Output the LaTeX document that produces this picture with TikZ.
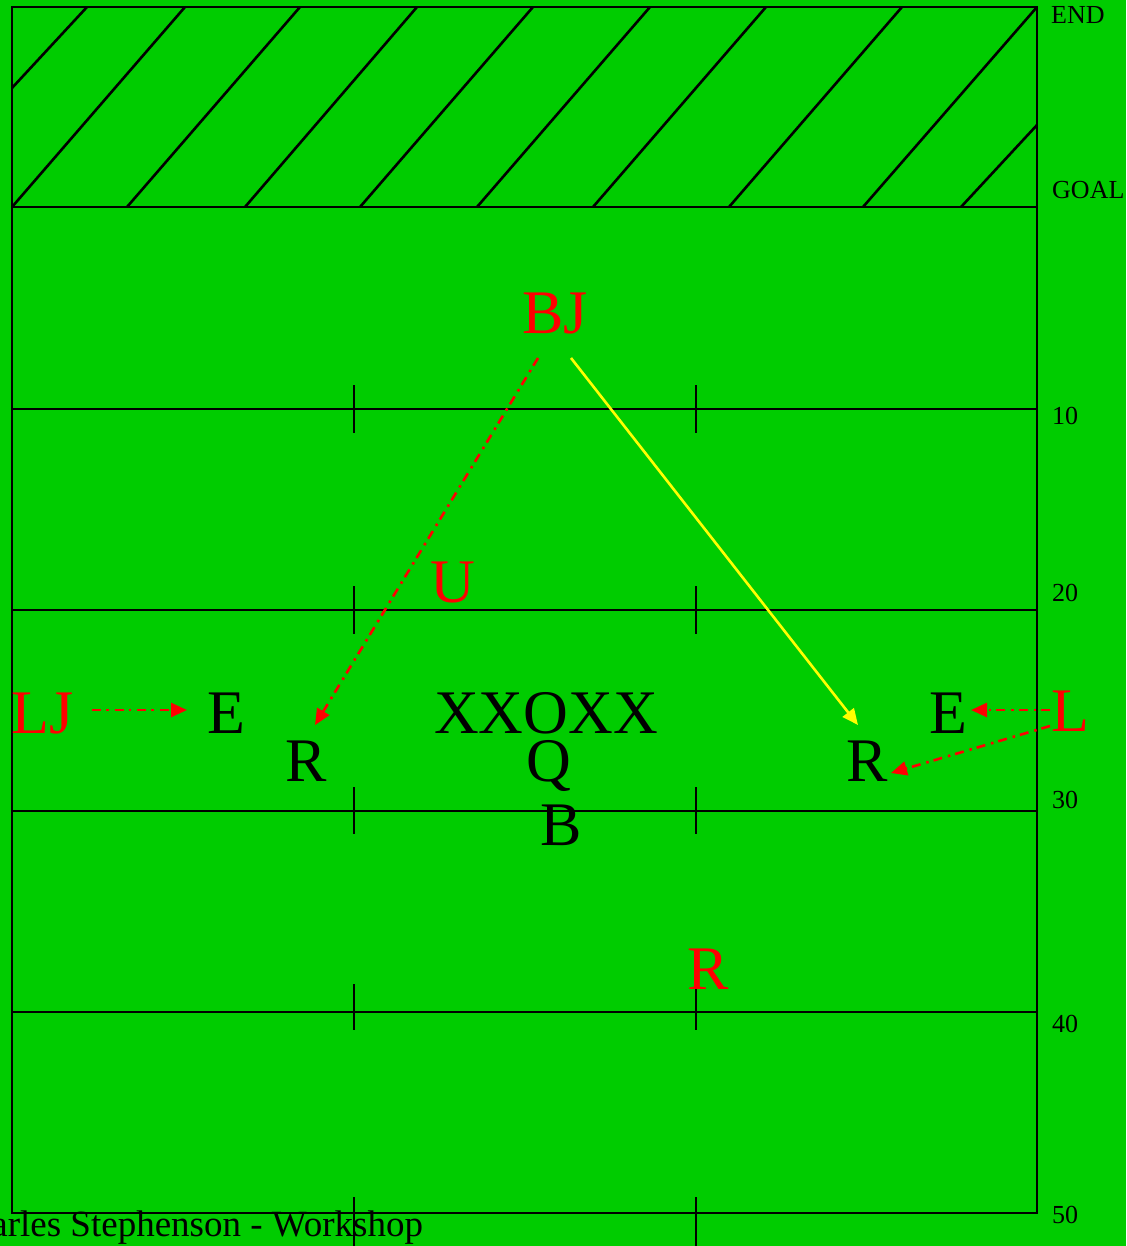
\documentclass[tikz,border=0pt]{standalone}
\usepackage{fontspec}
\setmainfont{Liberation Serif}
\usetikzlibrary{arrows.meta,calc}
\definecolor{fieldgreen}{HTML}{00CC00}
\definecolor{playred}{HTML}{FF0000}
\definecolor{playyellow}{HTML}{FFFF00}
\begin{document}
\begin{tikzpicture}[x=1pt,y=-1pt,
  fieldline/.style={line width=2.6pt,black},
  big/.style={anchor=base,inner sep=0pt,font=\fontsize{62}{62}\selectfont},
  player/.style={big,text=black},
  defender/.style={big,text=playred},
  yardlabel/.style={anchor=base west,inner sep=0pt,font=\fontsize{26}{26}\selectfont},
  footer/.style={anchor=base west,inner sep=0pt,font=\fontsize{37}{37}\selectfont},
  redmove/.style={line width=2.6pt,playred,dash pattern=on 9pt off 5pt on 2.5pt off 6pt,-{Triangle[length=16pt,width=14pt]}},
  yellowmove/.style={line width=2.6pt,playyellow,-{Triangle[length=16pt,width=14pt]}}]
\clip (0,0) rectangle (1126,1246);
\useasboundingbox (0,0) rectangle (1126,1246);
\fill[fieldgreen] (0,0) rectangle (1126,1246);
% end zone hatching
\draw[fieldline] (12,88) -- (87,7);
\draw[fieldline] (12,207) -- (185,7);
\draw[fieldline] (127,207) -- (300,7);
\draw[fieldline] (245,207) -- (417,7);
\draw[fieldline] (360,207) -- (533,7);
\draw[fieldline] (477,207) -- (650,7);
\draw[fieldline] (593,207) -- (766,7);
\draw[fieldline] (729,207) -- (902,7);
\draw[fieldline] (863,207) -- (1037,7);
\draw[fieldline] (961,207) -- (1037,125);
% field
\draw[fieldline] (12,7) rectangle (1037,1213);
\foreach \y in {207,409,610,811,1012} \draw[fieldline] (12,\y) -- (1037,\y);
\foreach \x in {354,696} {
  \draw[fieldline] (\x,385) -- (\x,433);
  \draw[fieldline] (\x,586) -- (\x,634);
  \draw[fieldline] (\x,787) -- (\x,834);
  \draw[fieldline] (\x,984) -- (\x,1030);
  \draw[fieldline] (\x,1197) -- (\x,1246);
}
% labels
\node[yardlabel] (lend) at (1051,24) {END};
\node[yardlabel] (lgoal) at (1052,199) {GOAL};
\node[yardlabel] (l10) at (1052,424) {10};
\node[yardlabel] (l20) at (1052,601) {20};
\node[yardlabel] (l30) at (1052,808) {30};
\node[yardlabel] (l40) at (1052,1032) {40};
\node[yardlabel] (l50) at (1052,1223) {50};
% players
\node[defender] (BJ) at (555,333) {BJ};
\node[defender] (U) at (453,602) {U};
\node[defender] (LJ) at (43,733) {LJ};
\node[player] (El) at (226,733) {E};
\node[player] (line) at (546,733) {XXOXX};
\node[player] (Er) at (948,733) {E};
\node[defender] (L) at (1070,731) {L};
\node[player] (Rl) at (306,781) {R};
\node[player] (Q) at (549,781) {Q};
\node[player] (Rr) at (867,781) {R};
\node[player] (B) at (561,845) {B};
\node[defender] (Rd) at (708,989) {R};
% movements
\draw[redmove] ($(BJ.base)+(-17,25)$) -- ($(Rl.base)+(9,-56)$);
\draw[yellowmove] ($(BJ.base)+(16,25)$) -- ($(Rr.base)+(-9,-56)$);
\draw[redmove] ($(LJ.base)+(49,-23)$) -- ($(El.base)+(-39,-23)$);
\draw[redmove] ($(L.base)+(-20,-21)$) -- ($(Er.base)+(23,-23)$);
\draw[redmove] ($(L.base)+(-20,-5)$) -- ($(Rr.base)+(24,-8)$);
% footer
\node[footer] (credit) at (-52,1236) {Charles Stephenson - Workshop};
\end{tikzpicture}
\end{document}
